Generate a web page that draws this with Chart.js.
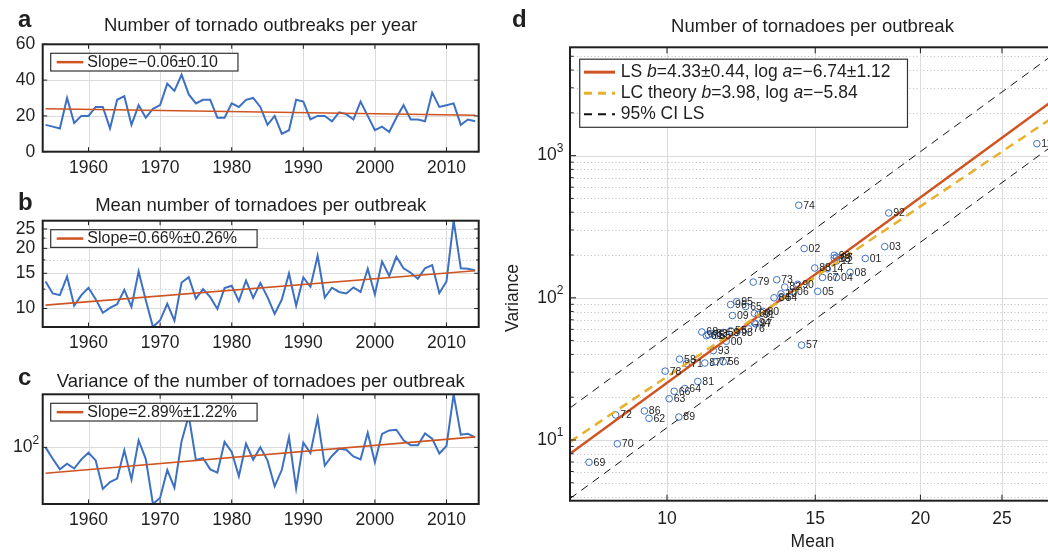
<!DOCTYPE html>
<html>
<head>
<meta charset="utf-8">
<title>Tornado outbreaks</title>
<script src="https://cdn.jsdelivr.net/npm/chart.js@4.4.1/dist/chart.umd.min.js"></script>
<style>
  html, body { margin: 0; padding: 0; width: 1048px; height: 553px; overflow: hidden; background: #fff; }
  canvas { position: absolute; }
  #chartA { left: 0; top: 0; }
  #chartB { left: 0; top: 180px; }
  #chartC { left: 0; top: 360px; }
  #chartD { left: 490px; top: 0; }
</style>
</head>
<body>
<canvas id="chartA" width="490" height="180"></canvas>
<canvas id="chartB" width="490" height="180"></canvas>
<canvas id="chartC" width="490" height="193"></canvas>
<canvas id="chartD" width="600" height="553"></canvas>
<script>
// --- data ---
const years = [
  1954, 1955, 1956, 1957, 1958, 1959, 1960, 1961, 1962, 1963,
  1964, 1965, 1966, 1967, 1968, 1969, 1970, 1971, 1972, 1973,
  1974, 1975, 1976, 1977, 1978, 1979, 1980, 1981, 1982, 1983,
  1984, 1985, 1986, 1987, 1988, 1989, 1990, 1991, 1992, 1993,
  1994, 1995, 1996, 1997, 1998, 1999, 2000, 2001, 2002, 2003,
  2004, 2005, 2006, 2007, 2008, 2009, 2010, 2011, 2012, 2013,
  2014
];
const outbreaksPerYear = [
  15, 14, 13, 30, 16, 20, 20, 25, 25, 13,
  29, 31, 15, 26, 19, 24, 26, 38, 34, 43,
  32, 27, 29, 29, 19, 19, 27, 25, 29, 30,
  25, 15, 20, 10, 12, 29, 28, 18, 20, 20,
  17, 22, 21, 18, 28, 20, 12, 14, 11, 19,
  26, 18, 18, 17, 33, 25, 26, 27, 15, 18,
  17
];
const meanPerOutbreak = [
  13.66, 11.9, 11.66, 14.45, 10.35, 11.66, 12.7, 11.14, 9.52, 10.06,
  10.5, 12.4, 10.2, 15.3, 11.0, 8.08, 8.73, 10.55, 8.69, 13.5,
  14.34, 11.2, 12.5, 11.4, 9.95, 12.66, 13.0, 10.88, 13.8, 11.3,
  13.4, 11.4, 9.4, 11.09, 14.98, 10.33, 14.3, 12.84, 18.34, 11.35,
  12.7, 12.1, 11.9, 12.75, 12.1, 15.8, 11.76, 17.2, 14.55, 18.14,
  15.9, 15.1, 14.1, 15.9, 16.5, 11.96, 13.66, 27.5, 15.9, 15.8,
  15.5
];
const variancePerOutbreak = [
  100, 58.6, 35.5, 46.5, 37, 57, 77.8, 54.2, 14.2, 19.5,
  23, 86.8, 22, 139, 57.5, 6.97, 9.4, 34.5, 15, 134,
  448, 55, 60.5, 35.5, 30.5, 129, 80.3, 25.8, 119, 56,
  100, 54.2, 16, 34.8, 162, 14.5, 124.5, 76.5, 395, 42.5,
  66.6, 94, 89.6, 65.5, 56.9, 199, 49.5, 189, 222, 229,
  139, 111, 110, 193, 151, 75, 106.5, 1213, 181.6, 190,
  160
];
const yearLabels = years.map(y => String(y).slice(2));

// trend lines and fits (end points)
const trendOutbreaks = [[1954, 24.0], [2014, 20.4]];
const trendMean = [[1954, 10.4], [2014, 15.45]];
const trendVariance = [[1954, 29.7], [2014, 164]];
const lsFit = [[7.67, 8.0], [28.9, 2500]];
const lcTheory = [[7.67, 9.7], [28.9, 1900]];
const ciUpper = [[7.67, 16.8], [28.9, 5250]];
const ciLower = [[7.67, 3.87], [28.9, 1210]];

// ticks
const decadeTicks = [1960, 1970, 1980, 1990, 2000, 2010];
const decadeLabels = ['1960', '1970', '1980', '1990', '2000', '2010'];
const ticksA = [0, 20, 40, 60];
const labelsA = ['0', '20', '40', '60'];
const ticksB = [10, 15, 20, 25];
const labelsB = ['10', '15', '20', '25'];
const minorB = [12.5, 17.5, 22.5];
const ticksC = [100];
const labelsC = [{ base: '10', exp: '2' }];
const meanTicks = [10, 15, 20, 25];
const meanLabels = ['10', '15', '20', '25'];
const varTicks = [10, 100, 1000];
const varLabels = [{ base: '10', exp: '1' }, { base: '10', exp: '2' }, { base: '10', exp: '3' }];
const varMinor = [4, 5, 6, 7, 8, 9, 20, 30, 40, 50, 60, 70, 80, 90, 200, 300, 400, 500, 600, 700, 800, 900, 2000, 3000, 4000, 5000];

const BLUE = '#3d70c2';
const ORANGE = '#cf5421';
const YELLOW = '#e8b02c';
const INK = '#1f1f1f';
const GRID = '#dcdcdc';
const DOTS = '#bdbdbd';
const FONT = '"Liberation Sans", Arial, Helvetica, sans-serif';

function seg(ctx, x0, y0, x1, y1) {
  ctx.beginPath(); ctx.moveTo(x0, y0); ctx.lineTo(x1, y1); ctx.stroke();
}

function drawTickText(ctx, t, x, y, align, size) {
  ctx.textBaseline = 'middle';
  if (typeof t === 'string') {
    ctx.font = `${size}px ${FONT}`;
    ctx.textAlign = align;
    ctx.fillText(t, x, y);
    return;
  }
  ctx.font = `${Math.round(size * 0.7)}px ${FONT}`;
  const ew = ctx.measureText(t.exp).width;
  ctx.textAlign = 'left';
  ctx.fillText(t.exp, x - ew, y - 7);
  ctx.font = `${size}px ${FONT}`;
  ctx.textAlign = 'right';
  ctx.fillText(t.base, x - ew, y);
}

function drawLegend(ctx, a, lg) {
  const bx = a.left + lg.dx, by = a.top + lg.dy;
  const font = it => `${it ? 'italic ' : ''}${lg.size}px ${FONT}`;
  const widths = lg.rows.map(r => r.parts.reduce((w, [t, it]) => {
    ctx.font = font(it);
    return w + ctx.measureText(t).width;
  }, 0));
  const bw = lg.textX + Math.max(...widths) + lg.padR;
  const bh = lg.rowH * lg.rows.length + lg.padV * 2;
  ctx.fillStyle = '#fff';
  ctx.fillRect(bx, by, bw, bh);
  ctx.strokeStyle = '#333';
  ctx.lineWidth = 1.2;
  ctx.setLineDash([]);
  ctx.strokeRect(bx, by, bw, bh);
  lg.rows.forEach((r, i) => {
    const cy = by + lg.padV + lg.rowH * (i + 0.5);
    ctx.strokeStyle = r.color;
    ctx.lineWidth = r.width;
    ctx.setLineDash(r.dash || []);
    seg(ctx, bx + lg.sample[0], cy, bx + lg.sample[1], cy);
    ctx.setLineDash([]);
    let tx = bx + lg.textX;
    ctx.fillStyle = INK;
    ctx.textAlign = 'left';
    ctx.textBaseline = 'middle';
    r.parts.forEach(([t, it]) => {
      ctx.font = font(it);
      ctx.fillText(t, tx, cy);
      tx += ctx.measureText(t).width;
    });
  });
}

// axes box, grid, ticks, labels, titles, legend
function framePlugin(f) {
  return {
    id: 'frame' + f.letter,
    beforeDatasetsDraw(chart) {
      const { ctx, chartArea: a, scales: { x, y } } = chart;
      ctx.save();
      ctx.lineWidth = 1;
      ctx.strokeStyle = DOTS;
      ctx.setLineDash([1, 2.5]);
      (f.yDotted || []).forEach(v => {
        const py = Math.round(y.getPixelForValue(v)) + 0.5;
        seg(ctx, a.left, py, a.right, py);
      });
      ctx.setLineDash([]);
      ctx.strokeStyle = GRID;
      f.xGrid.forEach(v => {
        const px = Math.round(x.getPixelForValue(v)) + 0.5;
        seg(ctx, px, a.top, px, a.bottom);
      });
      f.yGrid.forEach(v => {
        const py = Math.round(y.getPixelForValue(v)) + 0.5;
        seg(ctx, a.left, py, a.right, py);
      });
      ctx.restore();
    },
    afterDatasetsDraw(chart) {
      const { ctx, chartArea: a, scales: { x, y } } = chart;
      ctx.save();
      if (f.pointLabels) {
        const meta = chart.getDatasetMeta(f.pointLabels.dataset);
        ctx.font = `10.5px ${FONT}`;
        ctx.fillStyle = INK;
        ctx.textAlign = 'left';
        ctx.textBaseline = 'middle';
        meta.data.forEach((pt, i) => ctx.fillText(f.pointLabels.text[i], pt.x + 4.5, pt.y + 0.5));
      }
      drawLegend(ctx, a, f.legend);

      // tick marks
      ctx.strokeStyle = INK;
      ctx.lineWidth = 1;
      const T = f.tickLen;
      f.xTicks.forEach(v => {
        const px = x.getPixelForValue(v);
        seg(ctx, px, a.bottom, px, a.bottom - T);
        seg(ctx, px, a.top, px, a.top + T);
      });
      f.yTicks.forEach(v => {
        const py = y.getPixelForValue(v);
        seg(ctx, a.left, py, a.left + T, py);
        seg(ctx, a.right, py, a.right - T, py);
      });
      (f.yMinorTicks || []).forEach(v => {
        const py = y.getPixelForValue(v);
        seg(ctx, a.left, py, a.left + T * 0.6, py);
        seg(ctx, a.right, py, a.right - T * 0.6, py);
      });
      ctx.lineWidth = 2;
      ctx.strokeRect(a.left, a.top, a.right - a.left, a.bottom - a.top);

      // tick labels
      ctx.fillStyle = INK;
      f.xTicks.forEach((v, i) => drawTickText(ctx, f.xText[i], x.getPixelForValue(v), a.bottom + f.xLabelGap, 'center', 17.5));
      f.yTicks.forEach((v, i) => drawTickText(ctx, f.yText[i], a.left - f.yLabelGap, y.getPixelForValue(v), 'right', 17.5));

      // title and panel letter
      ctx.textAlign = 'center';
      ctx.textBaseline = 'alphabetic';
      ctx.font = `18.5px ${FONT}`;
      ctx.fillText(f.title, (a.left + a.right) / 2, f.titleY);
      ctx.textAlign = 'left';
      ctx.font = `bold 24px ${FONT}`;
      ctx.fillText(f.letter, f.letterX, f.letterY);

      if (f.xTitle) {
        ctx.font = `17.5px ${FONT}`;
        ctx.textAlign = 'center';
        ctx.textBaseline = 'middle';
        ctx.fillText(f.xTitle, (a.left + a.right) / 2, a.bottom + f.xTitleGap);
      }
      if (f.yTitle) {
        ctx.translate(f.yTitleX, (a.top + a.bottom) / 2 + f.yTitleShift);
        ctx.rotate(-Math.PI / 2);
        ctx.font = `17.5px ${FONT}`;
        ctx.textAlign = 'center';
        ctx.textBaseline = 'middle';
        ctx.fillText(f.yTitle, 0, 0);
      }
      ctx.restore();
    }
  };
}

function slopeLegend(text) {
  return {
    dx: 8, dy: 9, size: 16, rowH: 17.7, padV: 0,
    sample: [6, 32.6], textX: 36.6, padR: 20,
    rows: [{ color: ORANGE, width: 2.5, parts: [[text, false]] }]
  };
}

function baseOptions(pad, xScale, yScale) {
  return {
    responsive: false,
    animation: false,
    events: [],
    layout: { padding: pad },
    plugins: { legend: { display: false }, tooltip: { enabled: false } },
    scales: { x: xScale, y: yScale }
  };
}

function seriesChart(id, values, trend, yType, yMin, yMax, pad, frame) {
  return new Chart(document.getElementById(id), {
    type: 'scatter',
    data: {
      datasets: [
        {
          data: years.map((yr, i) => ({ x: yr, y: values[i] })),
          showLine: true, borderColor: BLUE, borderWidth: 2, pointRadius: 0, order: 2
        },
        {
          data: trend.map(([x, y]) => ({ x, y })),
          showLine: true, borderColor: ORANGE, borderWidth: 1.6, pointRadius: 0, order: 1
        }
      ]
    },
    options: baseOptions(pad,
      { type: 'linear', display: false, min: 1953.6, max: 2014.5, bounds: 'data' },
      { type: yType, display: false, min: yMin, max: yMax, bounds: 'data' }),
    plugins: [framePlugin(frame)]
  });
}

const leftCommon = {
  xTicks: decadeTicks, xText: decadeLabels, xGrid: decadeTicks,
  xLabelGap: 16.5, tickLen: 4.5, letterX: 18
};

// üÖ∞ outbreaks per year
seriesChart('chartA', outbreaksPerYear, trendOutbreaks, 'linear', 0, 60,
  { left: 42.7, top: 44.3, right: 11.3, bottom: 28.3 },
  Object.assign({}, leftCommon, {
    letter: 'a', letterY: 27, title: 'Number of tornado outbreaks per year', titleY: 30.7,
    yTicks: ticksA, yText: labelsA, yGrid: [20, 40], yLabelGap: 7.5,
    legend: slopeLegend('Slope=\u22120.06\u00b10.10')
  }));

// üÖ± mean per outbreak (log)
seriesChart('chartB', meanPerOutbreak, trendMean, 'logarithmic', 8.08, 27.5,
  { left: 42.7, top: 40.7, right: 11.3, bottom: 33 },
  Object.assign({}, leftCommon, {
    letter: 'b', letterY: 30, title: 'Mean number of tornadoes per outbreak', titleY: 31,
    yTicks: ticksB, yText: labelsB, yGrid: ticksB, yDotted: minorB, yMinorTicks: minorB, yLabelGap: 7.5,
    legend: slopeLegend('Slope=0.66%\u00b10.26%')
  }));

// variance per outbreak (log)
seriesChart('chartC', variancePerOutbreak, trendVariance, 'logarithmic', 6.97, 1213,
  { left: 42.7, top: 34.3, right: 11.3, bottom: 49 },
  Object.assign({}, leftCommon, {
    letter: 'c', letterY: 25, title: 'Variance of the number of tornadoes per outbreak', titleY: 26.7,
    yTicks: ticksC, yText: labelsC, yGrid: ticksC, yLabelGap: 3.5,
    legend: slopeLegend('Slope=2.89%\u00b11.22%')
  }));

// mean vs variance scatter (log-log)
const lineSet = (pts, color, width, dash, order) => ({
  data: pts.map(([x, y]) => ({ x, y })),
  showLine: true, borderColor: color, borderWidth: width, borderDash: dash,
  pointRadius: 0, order
});

new Chart(document.getElementById('chartD'), {
  type: 'scatter',
  data: {
    datasets: [
      {
        data: years.map((yr, i) => ({ x: meanPerOutbreak[i], y: variancePerOutbreak[i] })),
        pointStyle: 'circle', pointRadius: 3.3, pointBorderWidth: 1,
        pointBorderColor: BLUE, pointBackgroundColor: 'rgba(0,0,0,0)', order: 5
      },
      lineSet(ciUpper, '#111', 1, [8, 6], 4),
      lineSet(ciLower, '#111', 1, [8, 6], 3),
      lineSet(lsFit, ORANGE, 2.5, [], 2),
      lineSet(lcTheory, YELLOW, 2.5, [9, 6], 1)
    ]
  },
  options: baseOptions({ left: 80, top: 47.3, right: 35, bottom: 52.3 },
    { type: 'logarithmic', display: false, min: 7.67, max: 28.9, bounds: 'data' },
    { type: 'logarithmic', display: false, min: 3.74, max: 5780, bounds: 'data' }),
  plugins: [framePlugin({
    letter: 'd', letterX: 22, letterY: 27,
    title: 'Number of tornadoes per outbreak', titleY: 32.3,
    xTicks: meanTicks, xText: meanLabels, xGrid: meanTicks, xLabelGap: 18.6,
    yTicks: varTicks, yText: varLabels, yGrid: varTicks, yDotted: varMinor, yMinorTicks: varMinor,
    yLabelGap: 6.7, tickLen: 6,
    xTitle: 'Mean', xTitleGap: 41,
    yTitle: 'Variance', yTitleX: 23, yTitleShift: 24,
    pointLabels: { dataset: 0, text: yearLabels },
    legend: {
      dx: 9.7, dy: 11.9, size: 17.5, rowH: 21.1, padV: 2.4,
      sample: [4.3, 35.3], textX: 41, padR: 17,
      rows: [
        { color: ORANGE, width: 3, parts: [['LS ', false], ['b', true], ['=4.33\u00b10.44, log ', false], ['a', true], ['=\u22126.74\u00b11.12', false]] },
        { color: YELLOW, width: 3, dash: [8, 6], parts: [['LC theory ', false], ['b', true], ['=3.98, log ', false], ['a', true], ['=\u22125.84', false]] },
        { color: '#111', width: 2, dash: [8, 6], parts: [['95% CI LS', false]] }
      ]
    }
  })]
});
</script>
</body>
</html>
